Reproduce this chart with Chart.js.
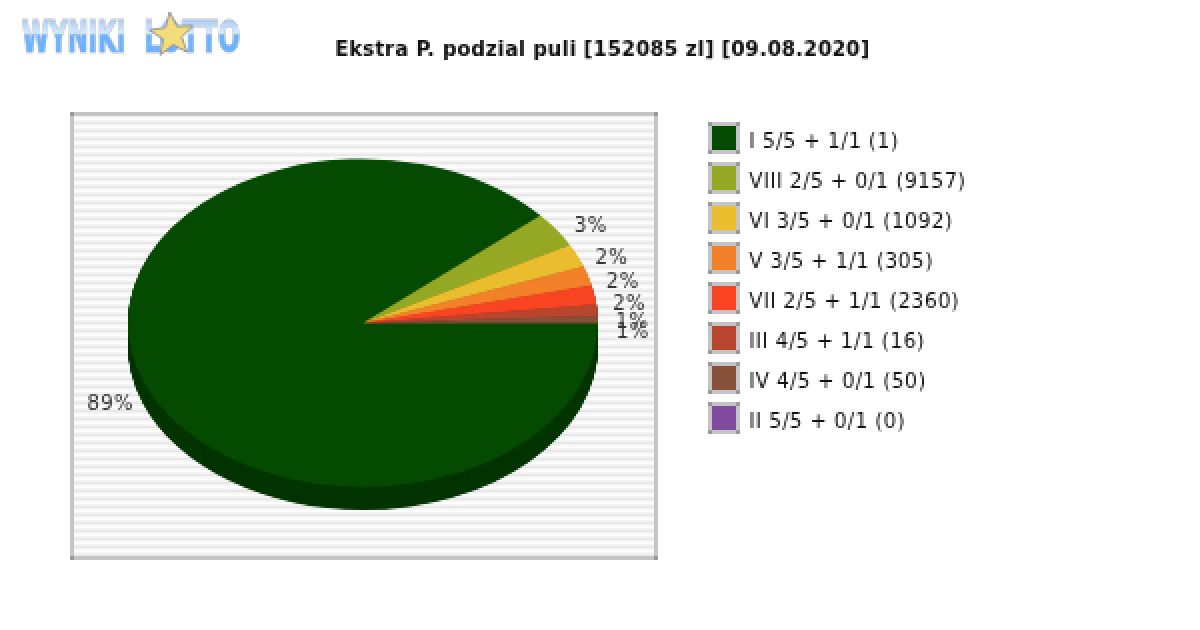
<!DOCTYPE html>
<html lang="pl">
<head>
<meta charset="UTF-8">
<title>Ekstra P. podzial puli</title>
<script src="https://cdn.jsdelivr.net/npm/chart.js"></script>
<style>
	html, body { margin: 0; padding: 0; background: #ffffff; }
	canvas { display: block; image-rendering: pixelated; }
</style>
</head>
<body>
<canvas id="pie" width="1200" height="630"></canvas>
<script>
	var chartTitle = "Ekstra P. podzial puli [152085 zl] [09.08.2020]";
	var categories = ["I 5/5 + 1/1 (1)", "VIII 2/5 + 0/1 (9157)", "VI 3/5 + 0/1 (1092)", "V 3/5 + 1/1 (305)",
		"VII 2/5 + 1/1 (2360)", "III 4/5 + 1/1 (16)", "IV 4/5 + 0/1 (50)", "II 5/5 + 0/1 (0)"];
	var shares = [88.7, 3.5, 2.3, 1.9, 1.9, 1.1, 0.7, 0];
	var shareLabels = ["89%", "3%", "2%", "2%", "2%", "1%", "1%", ""];
	var sliceColors = ["#044a00", "#94a823", "#e9bd2e", "#f2812a", "#f84422", "#b8462e", "#875038", "#7f4a9f"];
	var sideColors = ["#033400", "#687618", "#a48520", "#aa5b1e", "#ae3018", "#813120", "#5f3827", "#59346f"];

	var squash = 164 / 235;
	var depth = 23;
	var grey = "#c4c4c4", corner = "#999999";
	var labelFont = "20px 'DejaVu Sans'";

	function box(ctx, x, y, w, h) {
		// thick grey border with darker corners
		ctx.fillStyle = grey;
		ctx.fillRect(x, y, w, 4);
		ctx.fillRect(x, y + h - 4, w, 4);
		ctx.fillRect(x, y, 4, h);
		ctx.fillRect(x + w - 4, y, 4, h);
		ctx.fillStyle = corner;
		ctx.fillRect(x, y, 4, 4);
		ctx.fillRect(x + w - 4, y, 4, 4);
		ctx.fillRect(x, y + h - 4, 4, 4);
		ctx.fillRect(x + w - 4, y + h - 4, 4, 4);
	}

	function drawLogo(ctx) {
		var grad = ctx.createLinearGradient(0, 19, 0, 52);
		grad.addColorStop(0, "#a9c9f2");
		grad.addColorStop(0.42, "#d6ebff");
		grad.addColorStop(0.5, "#6cb2ff");
		grad.addColorStop(1, "#6cb2ff");
		ctx.save();
		ctx.font = "bold 44px 'DejaVu Sans'";
		ctx.textAlign = "left";
		ctx.textBaseline = "alphabetic";
		ctx.lineWidth = 2;
		ctx.strokeStyle = "#b8bcc4";
		ctx.fillStyle = grad;
		ctx.strokeText("WYNIKI", 22, 51, 104);
		ctx.fillText("WYNIKI", 22, 51, 104);
		ctx.strokeText("LOTTO", 144, 51, 96);
		ctx.fillText("LOTTO", 144, 51, 96);
		// star over the first O
		ctx.beginPath();
		for (var i = 0; i < 10; i++) {
			var r = i % 2 ? 10 : 23;
			var a = -Math.PI / 2 + i * Math.PI / 5 - 0.1;
			ctx.lineTo(172 + r * Math.cos(a), 35 + r * Math.sin(a));
		}
		ctx.closePath();
		ctx.fillStyle = "#f3dc7a";
		ctx.strokeStyle = "#7f8a9a";
		ctx.lineWidth = 1.5;
		ctx.fill();
		ctx.stroke();
		ctx.restore();
	}

	var sheetPlugin = {
		id: "sheet",
		beforeDraw: function (chart) {
			var ctx = chart.ctx;
			ctx.save();
			ctx.fillStyle = "#ffffff";
			ctx.fillRect(0, 0, chart.width, chart.height);
			// soft horizontal bands behind the pie
			for (var y = 116; y < 556; y += 8) {
				ctx.fillStyle = "#f4f4f4";
				ctx.fillRect(74, y, 580, 2);
				ctx.fillRect(74, y + 4, 580, 2);
				ctx.fillStyle = "#e8e8e8";
				ctx.fillRect(74, y + 6, 580, 2);
			}
			box(ctx, 70, 112, 588, 448);
			drawLogo(ctx);

			ctx.fillStyle = "#111111";
			ctx.font = "bold 20px 'DejaVu Sans'";
			ctx.letterSpacing = "0.3px";
			ctx.textAlign = "center";
			ctx.textBaseline = "middle";
			ctx.fillText(chartTitle, 602.5, 50);

			// legend
			ctx.font = labelFont;
			ctx.letterSpacing = "0.6px";
			ctx.textAlign = "left";
			categories.forEach(function (name, i) {
				var y = 122 + i * 40;
				ctx.fillStyle = sliceColors[i];
				ctx.fillRect(712, y + 4, 24, 24);
				box(ctx, 708, y, 32, 32);
				ctx.fillStyle = "#111111";
				ctx.fillText(name, 749, y + 20);
			});
			ctx.restore();
		}
	};

	var tiltPlugin = {
		id: "tilt",
		beforeDatasetsDraw: function (chart) {
			var ctx = chart.ctx, arcs = chart.getDatasetMeta(0).data;
			var cx = arcs[0].x, cy = arcs[0].y;
			ctx.save();
			ctx.translate(cx, cy);
			ctx.scale(1, squash);
			ctx.translate(-cx, -cy);
			// side wall: the same arcs repeated downwards in the darker colours
			for (var d = depth; d > 0; d--) {
				ctx.save();
				ctx.translate(0, d / squash);
				arcs.forEach(function (arc, i) {
					var own = arc.options;
					arc.options = Object.assign({}, own, { backgroundColor: sideColors[i] });
					arc.draw(ctx);
					arc.options = own;
				});
				ctx.restore();
			}
		},
		afterDatasetsDraw: function (chart) {
			var ctx = chart.ctx, arcs = chart.getDatasetMeta(0).data;
			ctx.restore();
			ctx.save();
			ctx.font = labelFont;
			ctx.letterSpacing = "0.8px";
			ctx.fillStyle = "#333333";
			ctx.textBaseline = "middle";
			arcs.forEach(function (arc, i) {
				if (!shareLabels[i]) return;
				var mid = (arc.startAngle + arc.endAngle) / 2;
				var cos = Math.cos(mid), sin = Math.sin(mid);
				var elev = Math.atan2(-sin, Math.abs(cos)) * 180 / Math.PI;
				var x = arc.x + arc.outerRadius * cos + (cos >= 0 ? 18 : -9);
				var y = arc.y + arc.outerRadius * squash * sin + 15 - 0.5 * elev;
				ctx.textAlign = cos >= 0 ? "left" : "right";
				ctx.fillText(shareLabels[i], x, y);
			});
			ctx.restore();
		}
	};

	new Chart(document.getElementById("pie"), {
		type: "pie",
		data: {
			labels: categories,
			datasets: [{
				data: shares,
				backgroundColor: sliceColors,
				borderWidth: 0
			}]
		},
		options: {
			responsive: false,
			animation: false,
			devicePixelRatio: 0.5, // the original is a small image blown up twice
			rotation: 90,
			layout: { padding: { left: 128, right: 602, top: 88, bottom: 72 } },
			plugins: { legend: { display: false }, tooltip: { enabled: false } }
		},
		plugins: [sheetPlugin, tiltPlugin]
	});
</script>
</body>
</html>
